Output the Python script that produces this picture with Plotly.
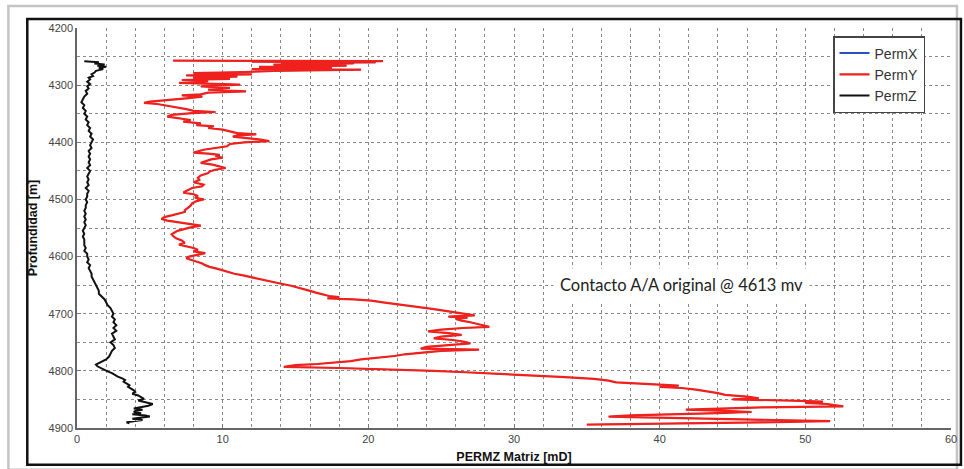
import plotly.graph_objects as go

# ---------------- data ----------------
depth_y = [4257, 4258, 4259, 4260, 4261, 4262, 4264, 4266, 4268, 4270, 4272, 4273, 4275, 4277, 4279,
           4281, 4283, 4285, 4287, 4289, 4291, 4293, 4296, 4299, 4302, 4305, 4308, 4311, 4313, 4316,
           4318, 4320, 4323, 4326, 4329, 4331, 4333, 4336, 4339, 4342, 4345, 4347, 4349, 4352, 4355,
           4358, 4361, 4364, 4367, 4370, 4372, 4375, 4378, 4381, 4384, 4386, 4388, 4390, 4392, 4395,
           4398, 4400, 4403, 4407, 4410, 4413, 4416, 4418, 4420, 4422, 4424, 4427, 4430, 4433, 4436,
           4439, 4442, 4445, 4448, 4451, 4454, 4458, 4462, 4466, 4470, 4474, 4477, 4480, 4484, 4488,
           4491, 4494, 4497, 4500, 4503, 4507, 4511, 4515, 4519, 4522, 4525, 4528, 4531, 4534, 4537,
           4540, 4543, 4546, 4549, 4552, 4555, 4558, 4561, 4564, 4568, 4572, 4576, 4579, 4582, 4585,
           4588, 4591, 4594, 4597, 4600, 4603, 4606, 4609, 4612, 4615, 4618, 4621, 4624, 4627, 4630,
           4633, 4636, 4639, 4642, 4645, 4648, 4651, 4654, 4657, 4660, 4663, 4666, 4669, 4671, 4673,
           4675, 4677, 4680, 4683, 4686, 4689, 4692, 4695, 4698, 4701, 4703, 4705, 4707, 4709, 4712,
           4715, 4718, 4721, 4723, 4725, 4728, 4731, 4734, 4737, 4740, 4743, 4746, 4749, 4752, 4755,
           4758, 4761, 4763, 4765, 4768, 4771, 4774, 4777, 4780, 4783, 4786, 4788, 4790, 4793, 4795,
           4797, 4800, 4802, 4805, 4808, 4811, 4814, 4817, 4820, 4822, 4824, 4826, 4828, 4830, 4833,
           4836, 4839, 4842, 4845, 4848, 4850, 4852, 4854, 4856, 4858, 4860, 4862, 4864, 4866, 4868,
           4870, 4872, 4874, 4876, 4878, 4880, 4882, 4884, 4886, 4888, 4890, 4892, 4894]
perm_y = [6.6, 21.0, 12.0, 20.5, 14.0, 19.0, 13.5, 18.5, 12.5, 17.5, 12.0, 19.5, 13.5, 11.5, 8.0,
          12.0, 7.5, 11.0, 8.0, 10.5, 7.2, 9.0, 7.0, 11.2, 8.5, 10.5, 9.0, 11.6, 9.0, 8.5,
          7.2, 8.6, 7.5, 6.0, 5.0, 4.6, 5.5, 6.2, 7.0, 7.5, 8.0, 9.5, 7.9, 6.5, 6.2,
          7.2, 7.8, 7.3, 8.5, 8.2, 9.4, 9.0, 10.0, 10.5, 11.0, 12.3, 11.0, 10.7, 11.5, 12.5,
          13.2, 11.5, 10.5, 10.3, 9.5, 8.7, 8.3, 8.0, 9.0, 9.8, 9.5, 10.0, 9.2, 8.8, 8.5,
          9.3, 9.8, 10.2, 9.5, 9.1, 9.0, 8.5, 8.3, 8.4, 8.0, 8.7, 8.6, 7.9, 7.6, 7.3,
          8.0, 8.3, 8.1, 8.7, 8.2, 7.9, 7.8, 7.6, 7.4, 7.4, 7.0, 6.5, 6.0, 5.8, 6.2,
          7.1, 7.8, 8.5, 7.8, 7.3, 6.9, 6.7, 6.5, 6.6, 6.8, 7.2, 7.4, 7.0, 7.6, 8.0,
          8.3, 8.0, 8.8, 8.2, 7.7, 7.5, 7.9, 8.3, 8.6, 8.8, 9.1, 9.6, 10.0, 10.5, 10.8,
          11.4, 11.9, 12.4, 13.0, 13.5, 14.1, 14.7, 15.2, 15.5, 16.0, 16.4, 16.8, 17.3, 18.0, 17.2,
          19.0, 20.2, 21.0, 22.0, 22.8, 23.6, 24.5, 25.2, 26.0, 26.8, 27.3, 25.5, 26.8, 26.0, 26.4,
          27.0, 27.6, 28.0, 28.3, 26.5, 25.0, 24.1, 25.5, 26.4, 25.0, 24.5, 25.8, 26.6, 27.0, 25.5,
          24.0, 23.6, 27.6, 25.0, 23.5, 22.5, 21.8, 20.5, 19.5, 18.8, 17.5, 16.5, 15.0, 14.2, 18.0,
          21.0, 24.5, 26.3, 29.0, 31.5, 33.5, 35.5, 36.5, 37.0, 38.4, 39.5, 41.3, 40.0, 41.5, 42.5,
          43.3, 44.0, 44.5, 46.0, 46.8, 45.0, 49.0, 51.2, 50.0, 51.5, 52.0, 52.6, 47.0, 44.0, 41.8,
          44.5, 46.3, 44.0, 40.0, 38.0, 36.5, 40.0, 45.0, 49.0, 51.7, 47.0, 42.0, 35.0]
# PermX coincides with PermY (hidden underneath in the reference)
depth_x = depth_y
perm_x = perm_y

depth_z = [4258, 4260, 4262, 4264, 4266, 4268, 4270, 4272, 4275, 4278, 4281, 4284, 4287, 4290, 4294,
           4298, 4302, 4306, 4310, 4315, 4320, 4325, 4330, 4335, 4340, 4345, 4350, 4355, 4360, 4365,
           4370, 4375, 4380, 4385, 4390, 4395, 4400, 4405, 4410, 4415, 4420, 4425, 4430, 4435, 4440,
           4445, 4450, 4455, 4460, 4465, 4470, 4475, 4480, 4485, 4490, 4495, 4500, 4505, 4510, 4515,
           4520, 4525, 4530, 4535, 4540, 4545, 4550, 4555, 4560, 4565, 4570, 4575, 4580, 4585, 4590,
           4595, 4600, 4605, 4610, 4615, 4620, 4625, 4630, 4635, 4640, 4645, 4650, 4655, 4660, 4665,
           4670, 4675, 4680, 4685, 4690, 4695, 4700, 4705, 4710, 4715, 4720, 4725, 4730, 4735, 4740,
           4745, 4750, 4755, 4760, 4765, 4770, 4775, 4780, 4785, 4789, 4792, 4795, 4798, 4801, 4804,
           4807, 4810, 4813, 4816, 4819, 4822, 4825, 4828, 4831, 4834, 4837, 4840, 4843, 4846, 4849,
           4852, 4855, 4858, 4861, 4864, 4866, 4868, 4870, 4872, 4874, 4876, 4878, 4880, 4882, 4884,
           4886, 4888, 4890, 4892]
perm_z = [0.5, 1.5, 1.2, 1.9, 1.4, 2.0, 1.5, 1.8, 1.3, 1.2, 1.0, 1.1, 0.8, 0.9, 0.7,
          0.9, 0.7, 0.8, 0.6, 0.7, 0.5, 0.4, 0.3, 0.5, 0.4, 0.6, 0.5, 0.7, 0.6, 0.8,
          0.7, 0.9, 0.8, 1.0, 0.9, 1.1, 1.0, 0.9, 1.0, 0.8, 0.9, 0.8, 0.9, 0.8, 0.9,
          0.7, 0.9, 0.8, 0.7, 0.8, 0.7, 0.8, 0.6, 0.8, 0.7, 0.7, 0.6, 0.7, 0.6, 0.6,
          0.5, 0.6, 0.5, 0.6, 0.5, 0.6, 0.5, 0.4, 0.5, 0.4, 0.5, 0.5, 0.5, 0.6, 0.5,
          0.7, 0.7, 0.8, 0.7, 0.9, 0.8, 0.9, 1.0, 1.0, 1.1, 1.2, 1.3, 1.4, 1.5, 1.5,
          1.7, 1.9, 2.0, 2.1, 2.3, 2.4, 2.5, 2.4, 2.6, 2.5, 2.7, 2.5, 2.7, 2.4, 2.5,
          2.6, 2.3, 2.5, 2.6, 2.4, 2.3, 2.2, 2.0, 1.6, 1.3, 1.4, 1.6, 1.8, 2.1, 2.4,
          2.6, 2.8, 3.1, 3.3, 3.2, 3.4, 3.6, 3.5, 3.7, 3.9, 4.0, 3.8, 4.2, 4.4, 4.6,
          4.2, 4.8, 5.2, 4.9, 4.3, 3.9, 4.5, 4.0, 3.9, 4.4, 3.8, 4.7, 5.0, 4.3, 3.8,
          4.5, 3.7, 3.4, 3.6]

x_ticks = [0, 10, 20, 30, 40, 50, 60]
y_ticks = [4200, 4300, 4400, 4500, 4600, 4700, 4800, 4900]

annotation_text = "Contacto A/A original @ 4613 mv"
annotation_x = 41.5
annotation_y = 4649

# ---------------- figure ----------------
fig = go.Figure()
# PermX data (drawn underneath PermY) and its legend entry
fig.add_trace(go.Scatter(x=perm_x, y=depth_x, mode="lines", name="PermX",
                         showlegend=False, line=dict(color="#2a4fc0", width=1)))
fig.add_trace(go.Scatter(x=[None], y=[None], mode="lines", name="PermX",
                         line=dict(color="#2a4fc0", width=2)))
fig.add_trace(go.Scatter(x=perm_y, y=depth_y, mode="lines", name="PermY",
                         line=dict(color="#f0201c", width=2.2)))
fig.add_trace(go.Scatter(x=perm_z, y=depth_z, mode="lines", name="PermZ",
                         line=dict(color="#111111", width=2)))

tickfont = dict(family="Liberation Sans, Arial, sans-serif", size=11, color="#444444")
titlefont = dict(family="Liberation Sans, Arial, sans-serif", size=12.5, color="#111111")
grid = dict(showgrid=True, gridcolor="#8a8a8a", gridwidth=1, griddash="dot")

fig.update_layout(
    width=964, height=469,
    margin=dict(l=77, r=7, t=28, b=39),
    paper_bgcolor="white", plot_bgcolor="white",
    showlegend=True,
    legend=dict(x=0.865, y=0.98, xanchor="left", yanchor="top", tracegroupgap=0,
                bgcolor="white", bordercolor="#444444", borderwidth=1.5,
                font=dict(family="Liberation Sans, Arial, sans-serif", size=14, color="#333333")),
    xaxis=dict(range=[0, 60], tickvals=x_ticks, ticktext=[str(v) for v in x_ticks],
               tickfont=tickfont, ticks="inside", ticklen=4, tickcolor="#777777",
               showline=True, linecolor="#666666", linewidth=1.5,
               zeroline=False, **grid,
               minor=dict(dtick=2, showgrid=True, gridcolor="#8a8a8a", griddash="dot", gridwidth=1),
               title=dict(text="<b>PERMZ Matriz [mD]</b>", font=titlefont, standoff=8)),
    yaxis=dict(range=[4900, 4200], tickvals=y_ticks, ticktext=[str(v) for v in y_ticks],
               tickfont=tickfont, ticks="inside", ticklen=4, tickcolor="#777777",
               showline=True, linecolor="#666666", linewidth=1.5,
               zeroline=False, **grid,
               minor=dict(dtick=50, showgrid=True, gridcolor="#8a8a8a", griddash="dot", gridwidth=1),
               title=dict(text="<b>Profundidad [m]</b>", font=titlefont, standoff=8)),
)

fig.add_annotation(x=annotation_x, y=annotation_y, text=annotation_text, showarrow=False,
                   font=dict(family="Lato, Open Sans, sans-serif", size=16.5, color="#222222"),
                   bgcolor="white", borderpad=6)

# frames around the chart (pixel -> paper coordinates)
def px(v):
    return (v - 77) / 879.0

def py(v):
    return (430 - v) / 402.0

fig.add_shape(type="rect", xref="paper", yref="paper",
              x0=px(8), x1=px(962), y0=py(472), y1=py(6),
              line=dict(color="#c4c4c4", width=2.5), layer="below")
fig.add_shape(type="rect", xref="paper", yref="paper",
              x0=px(27), x1=px(966), y0=py(467), y1=py(19),
              line=dict(color="#111111", width=2.5), layer="below")

fig.write_html("out.html")
